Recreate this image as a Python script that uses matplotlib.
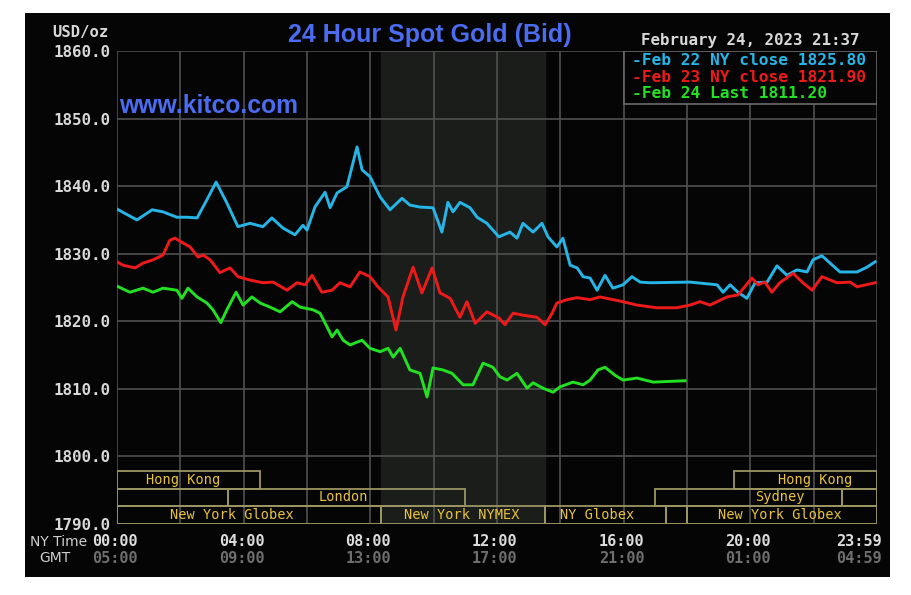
#!/usr/bin/python

import matplotlib.pyplot as plt
from matplotlib.patches import Rectangle
from matplotlib.transforms import blended_transform_factory

# Feb 22 (blue) - hours after NY midnight, price
blue_h = [0.00, 0.63, 1.11, 1.45, 1.89, 2.21, 2.53, 2.84, 3.13, 3.47, 3.82, 4.20, 4.61, 4.89,
          5.24, 5.62, 5.87, 6.00, 6.25, 6.57, 6.73, 6.95, 7.26, 7.58, 7.74, 7.99, 8.31, 8.62,
          9.00, 9.25, 9.57, 9.98, 10.26, 10.45, 10.61, 10.83, 11.15, 11.37, 11.68, 12.06,
          12.41, 12.63, 12.82, 13.14, 13.42, 13.61, 13.89, 14.08, 14.31, 14.53, 14.72, 14.94,
          15.16, 15.41, 15.66, 15.98, 16.26, 16.52, 16.83, 18.09, 18.95, 19.14, 19.36, 19.61,
          19.89, 20.15, 20.53, 20.84, 21.16, 21.47, 21.79, 21.98, 22.26, 22.52, 22.83, 23.37,
          23.68, 23.94]
blue_p = [1836.6, 1835.0, 1836.5, 1836.2, 1835.4, 1835.4, 1835.3, 1838.0, 1840.6, 1837.5,
          1834.0, 1834.5, 1834.0, 1835.3, 1833.8, 1832.8, 1834.2, 1833.5, 1836.9, 1839.1,
          1836.8, 1839.0, 1839.9, 1845.8, 1842.4, 1841.4, 1838.4, 1836.5, 1838.2, 1837.2,
          1836.9, 1836.8, 1833.2, 1837.6, 1836.2, 1837.6, 1836.8, 1835.4, 1834.5, 1832.5,
          1833.2, 1832.3, 1834.5, 1833.2, 1834.5, 1832.5, 1831.0, 1832.3, 1828.3, 1827.9,
          1826.6, 1826.4, 1824.6, 1826.8, 1824.9, 1825.4, 1826.6, 1825.8, 1825.7, 1825.8,
          1825.4, 1824.3, 1825.4, 1824.3, 1823.4, 1825.7, 1825.8, 1828.2, 1826.8, 1827.6,
          1827.3, 1829.1, 1829.7, 1828.6, 1827.3, 1827.3, 1828.0, 1828.8]

# Feb 23 (red)
red_h = [0.00, 0.19, 0.57, 0.82, 1.14, 1.45, 1.67, 1.83, 2.08, 2.31, 2.56, 2.72, 2.94, 3.25,
         3.57, 3.82, 4.20, 4.61, 4.93, 5.37, 5.68, 5.94, 6.16, 6.47, 6.79, 7.04, 7.36, 7.67,
         7.99, 8.24, 8.56, 8.81, 9.03, 9.35, 9.63, 9.95, 10.20, 10.52, 10.83, 11.05, 11.31,
         11.68, 12.06, 12.25, 12.51, 12.82, 13.26, 13.52, 13.74, 13.89, 14.21, 14.53, 14.94,
         15.25, 15.98, 16.42, 17.05, 17.68, 18.09, 18.41, 18.73, 19.26, 19.61, 20.05, 20.24,
         20.46, 20.68, 20.93, 21.35, 21.66, 21.95, 22.26, 22.74, 23.15, 23.37, 23.94]
red_p = [1828.8, 1828.3, 1827.9, 1828.6, 1829.1, 1829.8, 1832.0, 1832.3, 1831.6, 1831.0,
         1829.5, 1829.8, 1829.1, 1827.2, 1827.9, 1826.6, 1826.1, 1825.7, 1825.8, 1824.6,
         1825.7, 1825.4, 1826.8, 1824.3, 1824.6, 1825.7, 1825.1, 1827.3, 1826.6, 1825.1,
         1823.6, 1818.7, 1823.6, 1828.0, 1824.2, 1827.9, 1824.2, 1823.4, 1820.6, 1822.9,
         1819.7, 1821.4, 1820.5, 1819.5, 1821.2, 1820.9, 1820.6, 1819.5, 1821.2, 1822.7,
         1823.2, 1823.5, 1823.2, 1823.6, 1822.9, 1822.4, 1822.0, 1822.0, 1822.4, 1822.9,
         1822.4, 1823.6, 1823.9, 1826.4, 1825.4, 1825.8, 1824.3, 1825.7, 1827.1, 1825.7,
         1824.6, 1826.6, 1825.7, 1825.8, 1825.1, 1825.7]

# Feb 24 (green)
green_h = [0.00, 0.41, 0.82, 1.14, 1.45, 1.89, 2.05, 2.24, 2.53, 2.84, 3.03, 3.28, 3.47,
           3.76, 3.98, 4.26, 4.52, 4.83, 5.15, 5.53, 5.78, 6.19, 6.41, 6.63, 6.79, 6.95,
           7.14, 7.36, 7.74, 7.99, 8.31, 8.56, 8.72, 8.94, 9.25, 9.57, 9.79, 9.98, 10.29,
           10.58, 10.93, 11.24, 11.56, 11.87, 12.09, 12.32, 12.63, 12.95, 13.14, 13.45,
           13.77, 13.99, 14.40, 14.72, 14.94, 15.19, 15.41, 15.73, 15.98, 16.42, 16.93, 17.94]
green_p = [1825.2, 1824.3, 1824.9, 1824.3, 1824.9, 1824.6, 1823.4, 1824.9, 1823.6, 1822.7,
           1821.7, 1819.8, 1821.7, 1824.3, 1822.4, 1823.6, 1822.7, 1822.1, 1821.4, 1822.9,
           1822.1, 1821.7, 1821.2, 1819.2, 1817.7, 1818.7, 1817.2, 1816.5, 1817.2, 1816.0,
           1815.5, 1816.0, 1814.7, 1816.0, 1812.8, 1812.3, 1808.8, 1813.1, 1812.8, 1812.3,
           1810.6, 1810.6, 1813.8, 1813.2, 1811.8, 1811.3, 1812.3, 1810.1, 1810.9, 1810.1,
           1809.5, 1810.3, 1811.0, 1810.6, 1811.3, 1812.8, 1813.2, 1812.0, 1811.3, 1811.6,
           1811.0, 1811.2]

legend_labels = ["Feb 22 NY close", "Feb 23 NY close", "Feb 24 Last"]
legend_values = [1825.80, 1821.90, 1811.20]

y_ticks = [1790, 1800, 1810, 1820, 1830, 1840, 1850, 1860]
x_ticks = [0, 4, 8, 12, 16, 20, 24]
ny_labels = ["00:00", "04:00", "08:00", "12:00", "16:00", "20:00", "23:59"]
gmt_labels = ["05:00", "09:00", "13:00", "17:00", "21:00", "01:00", "04:59"]

# sessions: row (0 = bottom), start, end, label, label position
sess_row = [2, 2, 1, 1, 1, 1, 0, 0, 0, 0, 0]
sess_start = [0.0, 19.5, 0.0, 3.5, 17.0, 22.9, 0.0, 8.33, 13.5, 17.33, 18.0]
sess_end = [4.5, 24.0, 3.5, 11.0, 22.9, 24.0, 8.33, 13.5, 17.33, 18.0, 24.0]
sess_name = ["Hong Kong", "Hong Kong", "", "London", "Sydney", "",
             "New York Globex", "New York NYMEX", "NY Globex", "", "New York Globex"]
sess_text_x = [2.08, 22.04, 0, 7.14, 20.94, 0, 3.63, 10.89, 15.16, 0, 20.94]

nymex_start = 8.33
nymex_end = 13.5

BLUE = "#25b5e6"
RED = "#ee1a1a"
GREEN = "#22e022"
MONO = "DejaVu Sans Mono"


def main():
    fig = plt.figure(figsize=(9.12, 5.95), dpi=100, facecolor="white")

    # black panel behind everything
    fig.add_artist(Rectangle((25 / 912, 18 / 595), 865 / 912, 564 / 595,
                             transform=fig.transFigure, facecolor="#050505",
                             edgecolor="none", zorder=0))

    ax = fig.add_axes([117 / 912, 71 / 595, 760 / 912, 473 / 595])
    ax.set_facecolor("#050505")
    ax.set_xlim(0, 24)
    ax.set_ylim(1790, 1860)
    for s in ax.spines.values():
        s.set_visible(False)

    # NYMEX shading
    ax.axvspan(nymex_start, nymex_end, color="#1b1d1b", zorder=0)

    # grid
    for h in range(0, 25, 2):
        ax.axvline(h, color="#505050", lw=1.2, zorder=1)
    for v in y_ticks:
        ax.axhline(v, color="#505050", lw=1.2, zorder=1)

    # y labels
    ax.set_xticks([])
    ax.set_yticks(y_ticks)
    ax.set_yticklabels(["%.1f" % v for v in y_ticks], family=MONO,
                       fontweight="bold", fontsize=11.4, color="#d8d8d8")
    ax.tick_params(axis="y", length=0, pad=5)

    # x labels (NY and GMT)
    trans = blended_transform_factory(ax.transData, ax.transAxes)
    xpos = x_ticks[:-1] + [23.5]
    for x, ny, gmt in zip(xpos, ny_labels, gmt_labels):
        ax.text(x - 0.07, -0.038, ny, transform=trans, ha="center", va="center",
                family=MONO, fontweight="bold", fontsize=11, color="#dcdcdc",
                clip_on=False)
        ax.text(x - 0.07, -0.072, gmt, transform=trans, ha="center", va="center",
                family=MONO, fontweight="bold", fontsize=11, color="#6e6e6e",
                clip_on=False)
    fig.text(87 / 912, 1 - 542 / 595, "NY Time", ha="right", va="center",
             fontsize=10, color="#cfcfcf")
    fig.text(55 / 912, 1 - 558 / 595, "GMT", ha="center", va="center",
             fontsize=10, color="#cfcfcf")

    # session boxes
    row_h = 0.0375
    for r, a, b, name, tx in zip(sess_row, sess_start, sess_end, sess_name, sess_text_x):
        ax.add_patch(Rectangle((a, r * row_h), b - a, row_h, transform=trans,
                               facecolor="none", edgecolor="#9c9662", lw=1.3, zorder=3))
        if name:
            ax.text(tx, (r + 0.5) * row_h, name, transform=trans, ha="center",
                    va="center", family=MONO, fontsize=9.8, color="#e8c33a", zorder=4)

    # price lines
    ax.plot(blue_h, blue_p, color=BLUE, lw=2.1, zorder=5)
    ax.plot(red_h, red_p, color=RED, lw=2.1, zorder=5)
    ax.plot(green_h, green_p, color=GREEN, lw=2.1, zorder=5)

    # legend box
    ax.add_patch(Rectangle((16, 1852.2), 8, 7.8, facecolor="#050505",
                           edgecolor="#6a6a6a", lw=1.2, zorder=6))
    for i, (lab, val, col) in enumerate(zip(legend_labels, legend_values, [BLUE, RED, GREEN])):
        ax.text(16.27, 1858.6 - i * 2.45, "-%s %.2f" % (lab, val), ha="left",
                va="center", family=MONO, fontweight="bold", fontsize=11.7,
                color=col, zorder=7)

    # titles
    fig.text(430 / 912, 1 - 35 / 595, "24 Hour Spot Gold (Bid)", ha="center",
             va="center", family="Liberation Sans", fontweight="bold",
             fontsize=18, color="#4a6cf0")
    ax.text(0.05, 1851.8, "www.kitco.com", ha="left", va="center",
            family="Liberation Sans", fontweight="bold", fontsize=17.8,
            color="#4a6cf0", zorder=4)
    fig.text(52 / 912, 1 - 32 / 595, "USD/oz", ha="left", va="center",
             family=MONO, fontweight="bold", fontsize=11.2, color="#d8d8d8")
    fig.text(750 / 912, 1 - 41 / 595, "February 24, 2023 21:37", ha="center",
             va="center", family=MONO, fontweight="bold", fontsize=11.4,
             color="#d8d8d8")

    plt.savefig("out.png", dpi=100, facecolor="white")


if __name__ == "__main__":
    main()
